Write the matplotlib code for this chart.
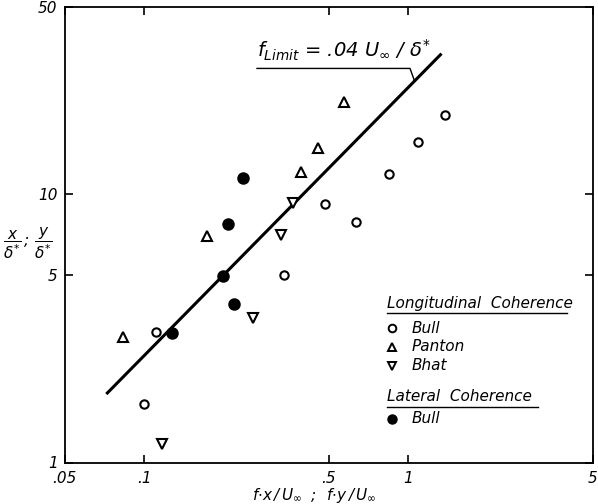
import matplotlib
matplotlib.use("Agg")
import matplotlib.pyplot as plt
from matplotlib.lines import Line2D

plt.rcParams["font.family"] = ["DejaVu Sans"]
plt.rcParams["font.style"] = "italic"
plt.rcParams["mathtext.fontset"] = "custom"
plt.rcParams["mathtext.rm"] = "DejaVu Sans:italic"
plt.rcParams["mathtext.it"] = "DejaVu Sans:italic"
plt.rcParams["mathtext.sf"] = "DejaVu Sans:italic"

# Longitudinal coherence, Bull (open circles)
bull_long_x = [0.100, 0.111, 0.340, 0.484, 0.636, 0.846, 1.096, 1.379]
bull_long_y = [1.65, 3.06, 5.02, 9.2, 7.92, 11.9, 15.7, 19.7]
# Longitudinal coherence, Panton (triangles up)
panton_x = [0.083, 0.174, 0.395, 0.457, 0.571]
panton_y = [2.95, 7.0, 12.1, 14.9, 22.1]
# Longitudinal coherence, Bhat (triangles down)
bhat_x = [0.117, 0.258, 0.329, 0.366]
bhat_y = [1.17, 3.47, 7.07, 9.28]
# Lateral coherence, Bull (filled circles)
bull_lat_x = [0.128, 0.200, 0.220, 0.208, 0.237]
bull_lat_y = [3.05, 4.96, 3.91, 7.78, 11.5]

# f_limit = .04 U/delta*  ->  x/delta* = 25 * f x / U
limit_coef = 25.0
limit_x = [0.072, 1.34]

x_ticks = [0.05, 0.1, 0.5, 1, 5]
x_labels = [".05", ".1", ".5", "1", "5"]
y_ticks = [1, 5, 10, 50]
y_labels = ["1", "5", "10", "50"]

fig = plt.figure(figsize=(5.98, 5.04), dpi=100)
ax = fig.add_axes([64.5 / 598, 41.5 / 504, 528 / 598, 455.5 / 504])
ax.set_xscale("log")
ax.set_yscale("log")
ax.set_xlim(0.05, 5)
ax.set_ylim(1, 50)

ax.plot(limit_x, [limit_coef * v for v in limit_x], color="black", lw=2.2,
        solid_capstyle="butt", zorder=2)

ms_kw = dict(linestyle="none", color="black", mew=1.5, zorder=3)
ax.plot(bull_long_x, bull_long_y, marker="o", ms=6, mfc="white", **ms_kw)
ax.plot(panton_x, panton_y, marker="^", ms=6.5, mfc="white", **ms_kw)
ax.plot(bhat_x, bhat_y, marker="v", ms=6.5, mfc="white", **ms_kw)
ax.plot(bull_lat_x, bull_lat_y, marker="o", ms=7.5, mfc="black", **ms_kw)

# label for the limit line with its underline leader
ax.text(0.268, 32.3, r"$f_{Limit}$ = .04 $U_{\infty}$ / $\delta^{*}$",
        fontsize=14, ha="left", va="baseline")
ax.plot([0.268, 1.018, 1.06], [29.5, 29.5, 26.4], color="black", lw=1.0)

ax.set_xticks(x_ticks)
ax.set_xticklabels(x_labels)
ax.set_yticks(y_ticks)
ax.set_yticklabels(y_labels)
ax.minorticks_off()
ax.tick_params(which="both", direction="in", length=6, width=1.2,
               top=True, right=True, labelsize=11)
ax.tick_params(axis="x", pad=6)
ax.tick_params(axis="y", pad=5)
for s in ax.spines.values():
    s.set_linewidth(1.3)

ax.set_xlabel(r"$f{\cdot}x\,/\,U_{\infty}\;\;;\;\;f{\cdot}y\,/\,U_{\infty}$",
              fontsize=11)
ax.xaxis.set_label_coords(0.474, -0.051)
fig.text(28 / 598, 1 - 243 / 504,
         r"$\dfrac{x}{\delta^{*}}\,;\,\dfrac{y}{\delta^{*}}$",
         fontsize=11, ha="center", va="center")

# hand-built legend
tr = ax.transAxes
ax.text(0.611, 0.350, "Longitudinal  Coherence", transform=tr, fontsize=11,
        ha="left", va="center")
ax.add_line(Line2D([0.611, 0.952], [0.328, 0.328], transform=tr,
                   color="black", lw=1.0))
rows = [(0.295, "o", "white", "Bull"),
        (0.254, "^", "white", "Panton"),
        (0.212, "v", "white", "Bhat")]
for yy, mk, fc, name in rows:
    ax.add_line(Line2D([0.620], [yy], transform=tr, marker=mk, ms=5.5,
                       mfc=fc, mec="black", mew=1.4, linestyle="none"))
    ax.text(0.658, yy, name, transform=tr, fontsize=11, ha="left", va="center")
ax.text(0.611, 0.144, "Lateral  Coherence", transform=tr, fontsize=11,
        ha="left", va="center")
ax.add_line(Line2D([0.611, 0.897], [0.122, 0.122], transform=tr,
                   color="black", lw=1.0))
ax.add_line(Line2D([0.620], [0.0955], transform=tr, marker="o", ms=6.5,
                   mfc="black", mec="black", linestyle="none"))
ax.text(0.658, 0.0955, "Bull", transform=tr, fontsize=11, ha="left", va="center")

fig.savefig("out.png", dpi=100)
